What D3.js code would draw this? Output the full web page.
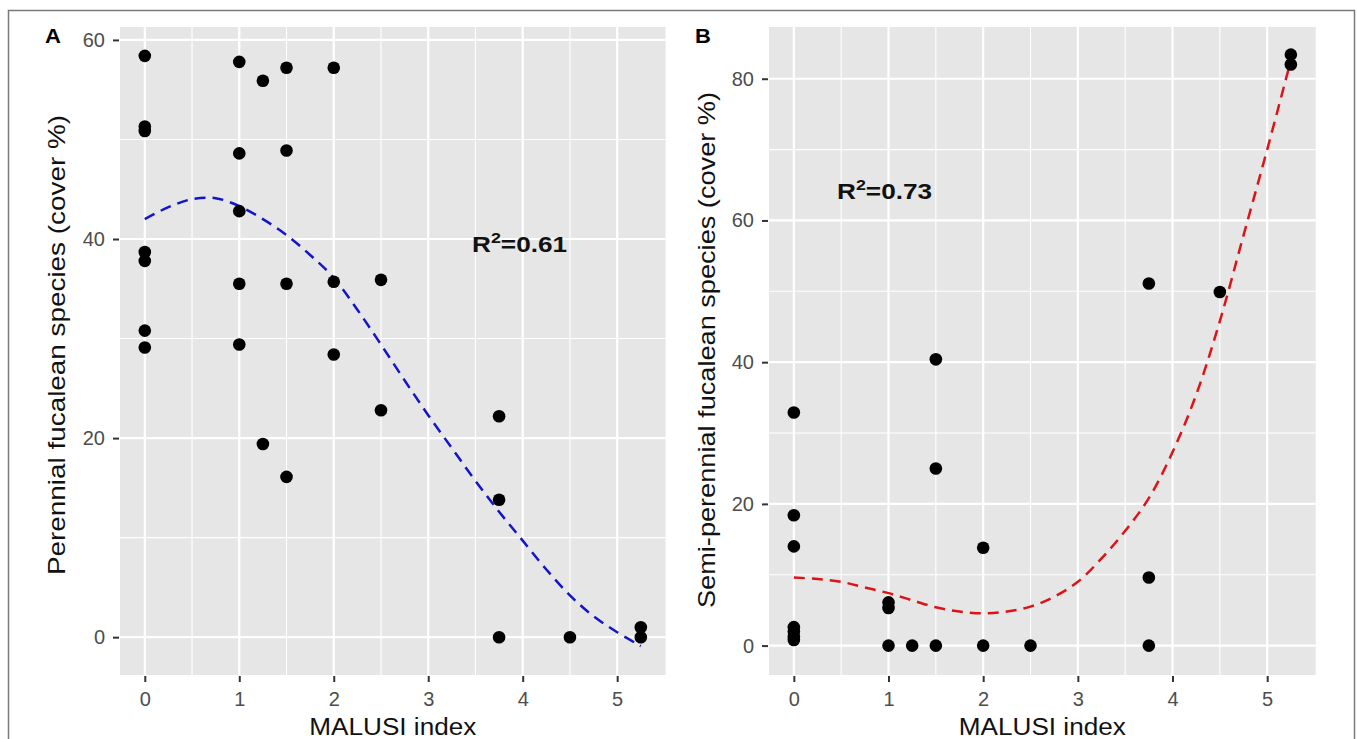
<!DOCTYPE html>
<html>
<head>
<meta charset="utf-8">
<script src="https://cdn.jsdelivr.net/npm/d3@7"></script>
<style>
  body { margin: 0; background: #fff; }
  svg text { font-family: "Liberation Sans", Arial, sans-serif; }
</style>
</head>
<body>
<script>
// MALUSI index vs fucalean cover, two panels (A: perennial, B: semi-perennial)

// panel A points
var malusiA = [0, 0, 0, 0, 0, 0, 0, 1, 1, 1, 1, 1, 1.25, 1.25, 1.5, 1.5, 1.5, 1.5, 2, 2, 2, 2.5, 2.5, 3.75, 3.75, 3.75, 4.5, 5.25, 5.25];
var perennial = [58.4, 51.3, 50.85, 38.7, 37.8, 30.8, 29.1, 57.8, 48.6, 42.8, 35.5, 29.4, 55.9, 19.4, 57.2, 48.9, 35.5, 16.1, 57.2, 35.7, 28.4, 35.9, 22.8, 22.2, 13.8, 0, 0, 1.0, 0];

// panel B points
var malusiB = [0, 0, 0, 0, 0, 0, 0, 1, 1, 1, 1.25, 1.5, 1.5, 1.5, 2, 2, 2.5, 3.75, 3.75, 3.75, 4.5, 5.25, 5.25];
var semiPerennial = [32.9, 18.4, 14.0, 2.6, 2.0, 1.3, 0.8, 6.1, 5.3, 0, 0, 40.4, 25.0, 0, 13.8, 0, 0, 51.1, 9.6, 0, 49.9, 83.4, 82.0];

// fitted curves
var fitX = [0, 0.25, 0.5, 0.75, 1, 1.25, 1.5, 1.75, 2, 2.25, 2.5, 2.75, 3, 3.25, 3.5, 3.75, 4, 4.25, 4.5, 4.75, 5, 5.25];
var fitA = [42.0, 43.2, 44.0, 44.1, 43.3, 42.0, 40.4, 38.4, 36.1, 32.9, 29.4, 25.8, 22.3, 19.0, 15.7, 12.6, 9.7, 6.8, 4.2, 2.1, 0.5, -0.9];
var fitB = [9.6, 9.4, 9.0, 8.2, 7.4, 6.4, 5.4, 4.8, 4.55, 4.8, 5.5, 6.9, 9.0, 12.3, 16.2, 20.8, 27.3, 35.4, 45.8, 57.9, 70.0, 82.6];

// ticks
var xTicks = [0, 1, 2, 3, 4, 5];
var xMinor = [0.5, 1.5, 2.5, 3.5, 4.5];
var yTicksA = [0, 20, 40, 60];
var yMinorA = [10, 30, 50];
var yTicksB = [0, 20, 40, 60, 80];
var yMinorB = [10, 30, 50, 70];

var W = 1357, H = 739;
var stretch = 1.19;

var svg = d3.select("body").append("svg")
    .attr("width", W)
    .attr("height", H);

// outer frame
svg.append("rect")
    .attr("x", 8.5).attr("y", 10.5)
    .attr("width", 1346).attr("height", 760)
    .attr("fill", "none")
    .attr("stroke", "#7a7a7a")
    .attr("stroke-width", 1.5);

function panel(cfg) {
    var x = d3.scaleLinear().domain([-0.2625, 5.5125]).range([cfg.left, cfg.right]);
    var y = d3.scaleLinear().domain(cfg.yDomain).range([675, 27]);

    var g = svg.append("g");

    g.append("rect")
        .attr("x", cfg.left).attr("y", 27)
        .attr("width", cfg.right - cfg.left).attr("height", 675 - 27)
        .attr("fill", "#e6e6e6");

    // minor grid
    g.selectAll(".vminor").data(xMinor).enter().append("line")
        .attr("x1", function(d) { return x(d); }).attr("x2", function(d) { return x(d); })
        .attr("y1", 27).attr("y2", 675)
        .attr("stroke", "#fff").attr("stroke-width", 1.1);
    g.selectAll(".hminor").data(cfg.yMinor).enter().append("line")
        .attr("y1", function(d) { return y(d); }).attr("y2", function(d) { return y(d); })
        .attr("x1", cfg.left).attr("x2", cfg.right)
        .attr("stroke", "#fff").attr("stroke-width", 1.1);

    // major grid
    g.selectAll(".vmajor").data(xTicks).enter().append("line")
        .attr("x1", function(d) { return x(d); }).attr("x2", function(d) { return x(d); })
        .attr("y1", 27).attr("y2", 675)
        .attr("stroke", "#fff").attr("stroke-width", 2.2);
    g.selectAll(".hmajor").data(cfg.yTicks).enter().append("line")
        .attr("y1", function(d) { return y(d); }).attr("y2", function(d) { return y(d); })
        .attr("x1", cfg.left).attr("x2", cfg.right)
        .attr("stroke", "#fff").attr("stroke-width", 2.2);

    // axes
    var xAxis = d3.axisBottom(x).tickValues(xTicks).tickSize(6).tickPadding(6).tickFormat(d3.format("d"));
    var yAxis = d3.axisLeft(y).tickValues(cfg.yTicks).tickSize(6).tickPadding(8).tickFormat(d3.format("d"));

    var gx = g.append("g")
        .attr("transform", "translate(0,676)")
        .call(xAxis);
    var gy = g.append("g")
        .attr("transform", "translate(" + (cfg.left - 1) + ",0)")
        .call(yAxis);
    [gx, gy].forEach(function(a) {
        a.select(".domain").remove();
        a.selectAll(".tick line").attr("stroke", "#333").attr("stroke-width", 2);
        a.selectAll(".tick text")
            .attr("fill", "#4d4d4d")
            .style("font-size", "20px");
    });
    gx.selectAll(".tick text").attr("dy", "0.9em");

    // fitted curve
    var line = d3.line()
        .x(function(d, i) { return x(fitX[i]); })
        .y(function(d) { return y(d); })
        .curve(d3.curveCatmullRom);
    g.append("path")
        .datum(cfg.fit)
        .attr("d", line)
        .attr("fill", "none")
        .attr("stroke", cfg.fitColor)
        .attr("stroke-width", 2.5)
        .attr("stroke-dasharray", "11,7");

    // points
    g.selectAll(".pt").data(cfg.ys).enter().append("circle")
        .attr("cx", function(d, i) { return x(cfg.xs[i]); })
        .attr("cy", function(d) { return y(d); })
        .attr("r", 6.3)
        .attr("fill", "#000");

    // panel letter
    g.append("text")
        .attr("transform", "translate(" + cfg.letterX + ",43) scale(1.1,1)")
        .style("font-size", "20px").style("font-weight", "bold")
        .text(cfg.letter);

    // R squared label
    var r2 = g.append("text")
        .attr("transform", "translate(" + cfg.r2x + "," + cfg.r2y + ") scale(" + stretch + ",1)")
        .style("font-size", "22px").style("font-weight", "bold")
        .attr("fill", "#111");
    r2.append("tspan").text("R");
    r2.append("tspan").attr("dy", -9).style("font-size", "15px").text("2");
    r2.append("tspan").attr("dy", 9).text(cfg.r2);

    // axis titles
    g.append("text")
        .attr("x", (cfg.left + cfg.right) / 2).attr("y", 735)
        .attr("text-anchor", "middle")
        .attr("textLength", 167).attr("lengthAdjust", "spacingAndGlyphs")
        .style("font-size", "23px").attr("fill", "#111")
        .text("MALUSI index");

    g.append("text")
        .attr("transform", "translate(" + cfg.yTitleX + "," + cfg.yTitleY + ") rotate(-90)")
        .attr("text-anchor", "middle")
        .attr("textLength", cfg.yTitleLen).attr("lengthAdjust", "spacingAndGlyphs")
        .style("font-size", "24px").attr("fill", "#111")
        .text(cfg.yTitle);
}

panel({
    left: 120, right: 665.6,
    yDomain: [-3.8, 61.3],
    yTicks: yTicksA, yMinor: yMinorA,
    xs: malusiA, ys: perennial,
    fit: fitA, fitColor: "#1414c8",
    letter: "A", letterX: 45,
    r2: "=0.61", r2x: 472, r2y: 252,
    yTitle: "Perennial fucalean species (cover %)",
    yTitleX: 65, yTitleY: 345, yTitleLen: 460
});

panel({
    left: 769, right: 1315.7,
    yDomain: [-4.15, 87.3],
    yTicks: yTicksB, yMinor: yMinorB,
    xs: malusiB, ys: semiPerennial,
    fit: fitB, fitColor: "#dc1418",
    letter: "B", letterX: 695,
    r2: "=0.73", r2x: 837, r2y: 199,
    yTitle: "Semi-perennial fucalean species (cover %)",
    yTitleX: 715, yTitleY: 350, yTitleLen: 516
});
</script>
</body>
</html>
